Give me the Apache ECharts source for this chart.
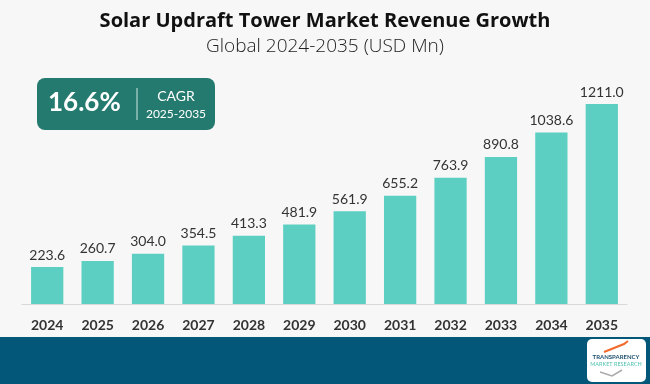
<!DOCTYPE html>
<html><head><meta charset="utf-8">
<script src="https://cdn.jsdelivr.net/npm/echarts@6/dist/echarts.min.js"></script>
<style>html,body{margin:0;padding:0;background:#f7f7f7;}#c{width:650px;height:384px;}</style>
</head><body><div id="c"></div>
<script>
const years = ['2024','2025','2026','2027','2028','2029','2030','2031','2032','2033','2034','2035'];
const revenue = [223.6,260.7,304.0,354.5,413.3,481.9,561.9,655.2,763.9,890.8,1038.6,1211.0];
const titleText = 'Solar Updraft Tower Market Revenue Growth';
const subtitleText = 'Global 2024-2035 (USD Mn)';
const cagrValue = '16.6%';
const cagrLabel = 'CAGR';
const cagrPeriod = '2025-2035';

const chart = echarts.init(document.getElementById('c'), null, {renderer:'canvas'});
chart.setOption({
  backgroundColor:'#f7f7f7',
  animation:false,
  title:[{text:titleText,left:'center',top:6,textStyle:{fontFamily:'Open Sans',fontWeight:'bold',fontSize:20,color:'#111'}},
         {text:subtitleText,left:'center',top:32,textStyle:{fontFamily:'Open Sans',fontWeight:300,fontSize:19,color:'#222'}}],
  grid:{left:22,right:23,top:104,bottom:80},
  xAxis:{type:'category',data:years,
    axisLine:{show:true,lineStyle:{color:'#d8d8d8',width:1}},
    axisTick:{show:false},
    axisLabel:{margin:14,fontFamily:'Lato',fontWeight:'bold',fontSize:14,color:'#333'}},
  yAxis:{type:'value',min:0,max:Math.max(...revenue),show:false,splitLine:{show:false}},
  series:[{type:'bar',data:revenue,barWidth:'64%',
    itemStyle:{color:'#5ccfc2'},
    label:{show:true,position:'top',distance:5,formatter:p=>p.value.toFixed(1),fontFamily:'Lato',fontSize:14,color:'#333'}}],
  graphic:[
    {type:'rect',left:0,top:337,shape:{width:650,height:47},style:{fill:'#03587a'},silent:true},
    {type:'rect',left:37,top:78,shape:{width:178,height:52,r:8},style:{fill:'#257a6f'}},
    {type:'text',left:48,top:90,style:{text:cagrValue,fontFamily:'Lato',fontWeight:'bold',fontSize:26,fill:'#fff'}},
    {type:'line',shape:{x1:137,y1:88,x2:137,y2:120},style:{stroke:'#cfe6e2',lineWidth:1}},
    {type:'text',x:176,y:96,style:{text:cagrLabel,fontFamily:'Lato',fontSize:14,fill:'#fff',align:'center',verticalAlign:'middle'}},
    {type:'text',x:176,y:114,style:{text:cagrPeriod,fontFamily:'Lato',fontSize:12,fill:'#fff',align:'center',verticalAlign:'middle'}},
    {type:'rect',left:587,top:339,shape:{width:59,height:43,r:5},style:{fill:'#ffffff'}},
    {type:'text',x:616,y:357,style:{text:'TRANSPARENCY',fontFamily:'Lato',fontWeight:'bold',fontSize:6,fill:'#1c4f6e',align:'center',verticalAlign:'middle'}},
    {type:'text',x:616,y:364,style:{text:'MARKET RESEARCH',fontFamily:'Lato',fontSize:5.5,fill:'#4fc1b0',align:'center',verticalAlign:'middle'}},
    {type:'polyline',shape:{points:[[604,352],[624,344],[628,341]]},style:{stroke:'#f26b2a',lineWidth:2}},
    {type:'polyline',shape:{points:[[600,372],[612,376],[622,370]]},style:{stroke:'#aaaaaa',lineWidth:1.5}}
  ]
});
</script></body></html>
